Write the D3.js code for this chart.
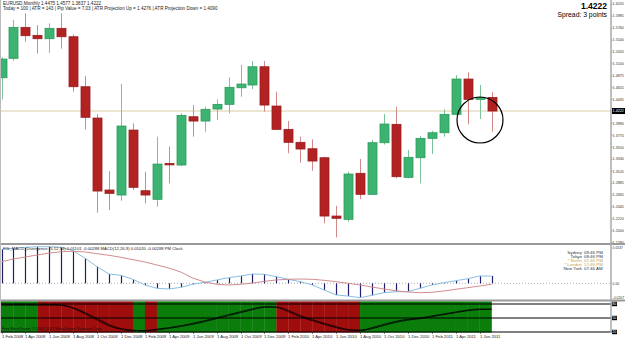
<!DOCTYPE html>
<html>
<head>
<meta charset="utf-8">
<script src="https://cdn.jsdelivr.net/npm/d3@7"></script>
<style>
  body { margin: 0; background: #fff; }
  svg { display: block; font-family: "Liberation Sans", Arial, sans-serif; }
</style>
</head>
<body>
<div id="chart"></div>
<script>
// EURUSD monthly, Feb 2008 .. Jul 2011
const months = ["Feb 2008","Mar 2008","Apr 2008","May 2008","Jun 2008","Jul 2008","Aug 2008","Sep 2008","Oct 2008","Nov 2008","Dec 2008",
  "Jan 2009","Feb 2009","Mar 2009","Apr 2009","May 2009","Jun 2009","Jul 2009","Aug 2009","Sep 2009","Oct 2009","Nov 2009","Dec 2009",
  "Jan 2010","Feb 2010","Mar 2010","Apr 2010","May 2010","Jun 2010","Jul 2010","Aug 2010","Sep 2010","Oct 2010","Nov 2010","Dec 2010",
  "Jan 2011","Feb 2011","Mar 2011","Apr 2011","May 2011","Jun 2011","Jul 2011"];
const open  = [1.4840,1.5200,1.5775,1.5627,1.5564,1.5757,1.5601,1.4673,1.4092,1.2756,1.2663,1.3869,1.2743,1.2583,1.3250,1.3220,1.4116,
  1.4036,1.4259,1.4346,1.4654,1.4705,1.5044,1.4315,1.3882,1.3641,1.3522,1.3355,1.2273,1.2212,1.3066,1.2676,1.3634,1.3975,1.2991,
  1.3355,1.3715,1.3819,1.4161,1.4816,1.4439,1.4475];
const high  = [1.5220,1.5911,1.6035,1.5818,1.5850,1.6038,1.5646,1.4872,1.4166,1.3108,1.4723,1.3994,1.3095,1.3745,1.3560,1.4179,1.4333,
  1.4302,1.4439,1.4847,1.5076,1.5150,1.5150,1.4580,1.4036,1.3745,1.3697,1.3374,1.2464,1.3095,1.3331,1.3684,1.4166,1.4302,1.3498,
  1.3758,1.3856,1.4254,1.4890,1.4940,1.4705,1.4577];
const low   = [1.4439,1.5156,1.5508,1.5293,1.5304,1.5380,1.4580,1.3882,1.2334,1.2385,1.2557,1.2756,1.2509,1.2446,1.2880,1.3200,1.3745,
  1.3838,1.4055,1.4179,1.4487,1.4630,1.4209,1.3869,1.3437,1.3262,1.3114,1.2138,1.1876,1.2167,1.2589,1.2663,1.3600,1.2973,1.2973,
  1.2880,1.3424,1.3745,1.4150,1.3975,1.4074,1.3837];
const close = [1.5187,1.5775,1.5620,1.5564,1.5757,1.5601,1.4673,1.4105,1.2737,1.2694,1.3944,1.2806,1.2663,1.3238,1.3230,1.4142,1.4036,
  1.4254,1.4346,1.4662,1.4723,1.5044,1.4333,1.3882,1.3641,1.3517,1.3294,1.2273,1.2231,1.3053,1.2676,1.3634,1.3981,1.3003,1.3363,
  1.3715,1.3819,1.4161,1.4816,1.4439,1.4476,1.4222];
const priceTicks = [1.6205,1.5985,1.5760,1.5540,1.5320,1.5100,1.4875,1.4655,1.4435,1.3990,1.3770,1.3550,1.3330,1.3105,1.2885,1.2665,1.2445,1.2220,1.2000,1.1780];
const bid = 1.4222;

// MACD sub window
const macdMain = [0.0490,0.0504,0.0518,0.0527,0.0527,0.0518,0.0469,0.0360,0.0239,0.0134,0.0115,0.0058,-0.0024,-0.0072,-0.0082,-0.0058,-0.0014,
  0.0014,0.0048,0.0081,0.0105,0.0134,0.0130,0.0095,0.0058,0.0023,-0.0024,-0.0096,-0.0168,-0.0183,-0.0207,-0.0173,-0.0135,-0.0121,-0.0121,
  -0.0072,-0.0024,0.0009,0.0037,0.0066,0.0105,0.0105];
const macdSignal = [0.0311,0.0350,0.0379,0.0408,0.0436,0.0455,0.0461,0.0451,0.0426,0.0403,0.0374,0.0340,0.0307,0.0264,0.0220,0.0163,0.0076,
  0.0019,-0.0014,-0.0024,-0.0014,0.0004,0.0029,0.0048,0.0058,0.0062,0.0058,0.0043,0.0023,0.0000,-0.0024,-0.0053,-0.0082,-0.0107,-0.0125,
  -0.0135,-0.0130,-0.0111,-0.0086,-0.0063,-0.0039,-0.0014];
const macdLabels = ["0.0537", "0.00", "-0.0207"];

// trend sub window: 1 = green, -1 = red, per bar segment
const trend = [1,1,1,-1,-1,-1,-1,-1,-1,-1,-1,1,-1,1,1,1,1,1,1,1,1,1,1,-1,-1,-1,-1,-1,-1,-1,1,1,1,1,1,1,1,1,1,1,1];
const osc1 = [0.97,0.97,0.97,0.97,0.96,0.93,0.69,0.29,-0.14,-0.57,-0.81,-0.90,-0.90,-0.80,-0.69,-0.55,-0.38,-0.19,0.02,0.24,0.45,0.66,0.81,
  0.76,0.45,0.09,-0.19,-0.45,-0.69,-0.86,-0.86,-0.69,-0.45,-0.24,-0.09,0.00,0.14,0.29,0.43,0.57,0.64,0.64];
const osc2 = [0.93,0.93,0.93,0.93,0.93,0.90,0.74,0.38,-0.04,-0.47,-0.76,-0.87,-0.92,-0.85,-0.74,-0.61,-0.45,-0.26,-0.05,0.17,0.38,0.59,0.76,
  0.79,0.54,0.18,-0.11,-0.38,-0.62,-0.82,-0.90,-0.76,-0.53,-0.31,-0.15,-0.05,0.09,0.24,0.38,0.52,0.60,0.62];
const oscLabels = ["80", "50", "20"];

const sessions = [["Sydney","09:46 PM"],["Tokyo","08:46 PM"],["* Berlin","01:46 PM"],["* London","12:46 PM"],["New York","07:46 AM"]];

const W = 625, H = 339;
const axisX = 611;

const svg = d3.select("#chart").append("svg").attr("width", W).attr("height", H);

const x = d3.scaleLinear().domain([0, 41]).range([1.5, 491.5]);
const y = d3.scaleLinear().domain([1.1780, 1.6205]).range([242.6, 4.2]);
const ym = d3.scaleLinear().domain([-0.0207, 0.0537]).range([297.7, 246]);
const yo = d3.scaleLinear().domain([-1, 1]).range([332, 304]);

const idx = d3.range(months.length);

// main pane
const main = svg.append("g");
main.append("line").attr("x1", 0).attr("x2", axisX).attr("y1", y(bid)).attr("y2", y(bid))
  .attr("stroke", "#dccca6").attr("stroke-width", 1);

const up = i => close[i] >= open[i];
main.selectAll("line.wick").data(idx).join("line")
  .attr("class", "wick")
  .attr("x1", i => Math.round(x(i)) + 0.5).attr("x2", i => Math.round(x(i)) + 0.5)
  .attr("y1", i => y(high[i])).attr("y2", i => y(low[i]))
  .attr("stroke", i => up(i) ? "#7cc497" : "#d58a8a").attr("stroke-width", 1);

main.selectAll("rect.body").data(idx).join("rect")
  .attr("class", "body")
  .attr("x", i => Math.round(x(i)) - 4)
  .attr("width", 9)
  .attr("y", i => y(Math.max(open[i], close[i])))
  .attr("height", i => Math.max(1.5, Math.abs(y(open[i]) - y(close[i]))))
  .attr("fill", i => up(i) ? "#3cb371" : "#b22222")
  .attr("stroke", i => up(i) ? "#2e9a5c" : "#9a1c1c").attr("stroke-width", 0.8);

// circle annotation
main.append("circle").attr("cx", 480).attr("cy", 120).attr("r", 23)
  .attr("fill", "none").attr("stroke", "#000").attr("stroke-width", 1.2);

// header texts
main.append("text").attr("x", 3).attr("y", 5).attr("font-size", 4.6).attr("fill", "#222")
  .text("EURUSD,Monthly  1.4475 1.4577 1.3837 1.4222");
main.append("text").attr("x", 3).attr("y", 10).attr("font-size", 4.6).attr("fill", "#222")
  .text("Today = 100   |   ATR = 143   |   Pip Value = 7.03   |   ATR Projection Up = 1.4276   |   ATR Projection Down = 1.4090");
main.append("text").attr("x", 607).attr("y", 9).attr("text-anchor", "end")
  .attr("font-size", 8.5).attr("font-weight", "bold").attr("fill", "#000").text("1.4222");
main.append("text").attr("x", 607).attr("y", 17).attr("text-anchor", "end")
  .attr("font-size", 6.8).attr("fill", "#000").text("Spread: 3 points");

// price axis
const yAxis = svg.append("g");
yAxis.selectAll("text").data(priceTicks).join("text")
  .attr("x", 612.6).attr("y", d => y(d)).attr("dy", "0.35em")
  .attr("font-size", 3.7).attr("fill", "#333").text(d => d.toFixed(4));
yAxis.selectAll("line").data(priceTicks).join("line")
  .attr("x1", axisX).attr("x2", axisX + 1.5).attr("y1", d => y(d)).attr("y2", d => y(d))
  .attr("stroke", "#555").attr("stroke-width", 0.6);
yAxis.append("rect").attr("x", axisX + 1).attr("y", y(bid) - 3).attr("width", 13).attr("height", 6).attr("fill", "#000");
yAxis.append("text").attr("x", 612.6).attr("y", y(bid)).attr("dy", "0.35em")
  .attr("font-size", 3.7).attr("fill", "#fff").text(bid.toFixed(4));

// pane separators
svg.append("line").attr("x1", 0).attr("x2", W).attr("y1", 244).attr("y2", 244).attr("stroke", "#999").attr("stroke-width", 2);
svg.append("line").attr("x1", 0).attr("x2", W).attr("y1", 300.5).attr("y2", 300.5).attr("stroke", "#999").attr("stroke-width", 2);

// MACD pane
const mp = svg.append("g");
mp.append("line").attr("x1", 0).attr("x2", axisX).attr("y1", ym(0)).attr("y2", ym(0))
  .attr("stroke", "#999").attr("stroke-dasharray", "1,2").attr("stroke-width", 0.8);
mp.selectAll("line.hist").data(idx).join("line")
  .attr("class", "hist")
  .attr("x1", i => Math.round(x(i)) + 0.5).attr("x2", i => Math.round(x(i)) + 0.5)
  .attr("y1", ym(0)).attr("y2", i => ym(macdMain[i]))
  .attr("stroke", "#1f1f6b").attr("stroke-width", 1.2);
const mline = d3.line().x(i => x(i)).y(i => ym(macdMain[i]));
const sline = d3.line().x(i => x(i)).y(i => ym(macdSignal[i]));
mp.append("path").datum(idx).attr("d", mline).attr("fill", "none").attr("stroke", "#89bfe3").attr("stroke-width", 1);
mp.append("path").datum(idx).attr("d", sline).attr("fill", "none").attr("stroke", "#d48c8c").attr("stroke-width", 1);
mp.append("text").attr("x", 3).attr("y", 249.5).attr("font-size", 4.2).attr("fill", "#222")
  .text("FIS_MACD_Divergence (5,12,34)  0.01101  -0.00288    MACD(12,26,9)  0.01020  -0.00288    PM Clock");
sessions.forEach((s, k) => {
  const col = s[0].startsWith("*") ? "#c9a24a" : "#333";
  mp.append("text").attr("x", 582).attr("y", 254 + k * 4.1).attr("text-anchor", "end")
    .attr("font-size", 4.4).attr("fill", col).text(s[0]);
  mp.append("text").attr("x", 584).attr("y", 254 + k * 4.1)
    .attr("font-size", 4.4).attr("fill", col).text(s[1]);
});
[[0.0537, macdLabels[0], 2.2], [0, macdLabels[1], 0], [-0.0207, macdLabels[2], 0]].forEach(d => {
  mp.append("text").attr("x", 612.6).attr("y", ym(d[0]) + d[2]).attr("dy", "0.35em")
    .attr("font-size", 3.4).attr("fill", "#333").text(d[1]);
});

// trend pane
const tp = svg.append("g");
tp.selectAll("rect.band").data(trend).join("rect")
  .attr("class", "band")
  .attr("x", (d, i) => i === 0 ? 0 : x(i))
  .attr("width", (d, i) => x(i + 1) - (i === 0 ? 0 : x(i)) + 0.3)
  .attr("y", 301.5).attr("height", 31)
  .attr("fill", d => d > 0 ? "#0b7d0b" : "#a00d0d");
[1, 0, -1].forEach((v, k) => {
  tp.append("line").attr("x1", 0).attr("x2", axisX + 1).attr("y1", yo(v)).attr("y2", yo(v))
    .attr("stroke", "#000").attr("stroke-width", 1);
  tp.append("rect").attr("x", axisX + 1).attr("y", yo(v) - 2.2).attr("width", 5).attr("height", 4.4).attr("fill", "#000");
  tp.append("text").attr("x", axisX + 1.3).attr("y", yo(v)).attr("dy", "0.35em")
    .attr("font-size", 3.6).attr("fill", "#fff").text(oscLabels[k]);
});
const o1 = d3.line().curve(d3.curveMonotoneX).x(i => x(i)).y(i => yo(osc1[i]));
const o2 = d3.line().curve(d3.curveMonotoneX).x(i => x(i)).y(i => yo(osc2[i]));
tp.append("path").datum(idx).attr("d", o1).attr("fill", "none").attr("stroke", "#000").attr("stroke-width", 0.8);
tp.append("path").datum(idx).attr("d", o2).attr("fill", "none").attr("stroke", "#000").attr("stroke-width", 0.8);
tp.append("text").attr("x", 2).attr("y", 306).attr("font-size", 3.8).attr("fill", "#111").text("Heiken Ashi Smoothed Trend");
tp.append("text").attr("x", 2).attr("y", 330).attr("font-size", 3.8).attr("fill", "#111")
  .text("Free MetaTrader, \u00a9 2005-2011 MetaQuotes Software Corp.");

// date axis
const dates = idx.filter(i => i % 2 === 0);
const xa = svg.append("g");
xa.selectAll("text").data(dates).join("text")
  .attr("x", i => Math.round(x(i))).attr("y", 338).attr("font-size", 4.2).attr("fill", "#222")
  .text(i => "1 " + months[i]);
xa.selectAll("line").data(dates).join("line")
  .attr("x1", i => Math.round(x(i)) + 0.5).attr("x2", i => Math.round(x(i)) + 0.5)
  .attr("y1", 332).attr("y2", 334).attr("stroke", "#333").attr("stroke-width", 0.6);

// borders
svg.append("line").attr("x1", axisX).attr("x2", axisX).attr("y1", 0).attr("y2", 333)
  .attr("stroke", "#aaa").attr("stroke-width", 1.5);
svg.append("line").attr("x1", 0.5).attr("x2", 0.5).attr("y1", 0).attr("y2", 333)
  .attr("stroke", "#bbb").attr("stroke-width", 1);
</script>
</body>
</html>
